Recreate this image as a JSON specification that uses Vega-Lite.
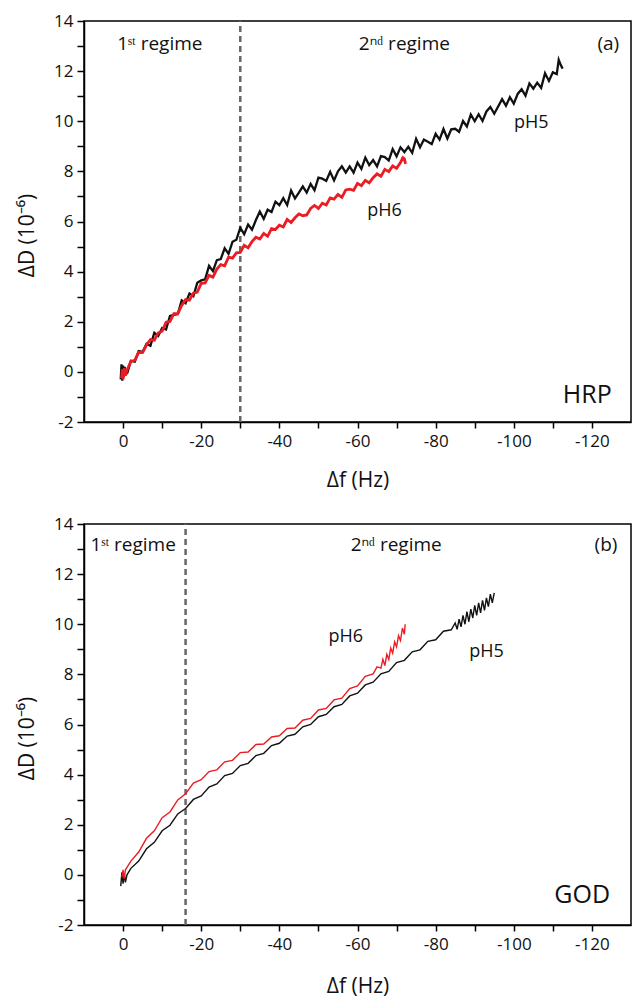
{
"$schema": "https://vega.github.io/schema/vega-lite/v6.json",
"padding": {"left": 15, "top": 11, "right": 0, "bottom": 0},
"spacing": 23,
"config": {
  "font": "Open Sans",
  "view": {"stroke": "#000", "strokeWidth": 1.5},
  "axis": {"grid": false, "domainColor": "#000", "domainWidth": 1.5, "tickColor": "#000", "tickWidth": 1.5, "labelColor": "#111", "titleColor": "#111", "labelFontSize": 17, "titleFontSize": 21, "titleFontWeight": "normal", "labelFlush": false, "labelOverlap": false},
  "axisX": {"tickSize": 6, "labelPadding": 5, "titlePadding": 20},
  "axisY": {"tickSize": 7, "labelPadding": 4, "titlePadding": 16, "titleY": 214},
  "text": {"color": "#111"}
},
"datasets": {
"a5": [
{"f":0.6,"d":-0.3},{"f":0.4,"d":0.3},{"f":0.2,"d":-0.35},{"f":0,"d":0.25},{"f":-0.2,"d":-0.2},{"f":-0.4,"d":0.2},{"f":-0.6,"d":-0.1},{"f":-0.8,"d":0.1},
{"f":-1,"d":-0.08},{"f":-2,"d":0.44},{"f":-3,"d":0.41},{"f":-4,"d":0.83},{"f":-5,"d":0.8},{"f":-6,"d":1.12},{"f":-7,"d":1.04},{"f":-8,"d":1.56},{"f":-9,"d":1.43},{"f":-10,"d":1.75},
{"f":-11,"d":1.69},{"f":-12,"d":2.23},{"f":-13,"d":2.27},{"f":-14,"d":2.31},{"f":-15,"d":2.85},{"f":-16,"d":2.74},{"f":-17,"d":3.13},{"f":-18,"d":3.02},{"f":-19,"d":3.56},{"f":-20,"d":3.65},
{"f":-21,"d":3.69},{"f":-22,"d":4.23},{"f":-23,"d":4.02},{"f":-24,"d":4.46},{"f":-25,"d":4.5},{"f":-26,"d":4.93},{"f":-27,"d":4.71},{"f":-28,"d":5.19},{"f":-29,"d":5.27},{"f":-30,"d":5.75},
{"f":-31,"d":5.49},{"f":-32,"d":5.88},{"f":-33,"d":5.67},{"f":-34,"d":6.06},{"f":-35,"d":6.4},{"f":-36,"d":6.11},{"f":-37,"d":6.47},{"f":-38,"d":6.38},{"f":-39,"d":6.79},{"f":-40,"d":6.65},
{"f":-41,"d":6.93},{"f":-42,"d":6.66},{"f":-43,"d":7.24},{"f":-44,"d":6.92},{"f":-45,"d":7.15},{"f":-46,"d":7.4},{"f":-47,"d":7.15},{"f":-48,"d":7.5},{"f":-49,"d":7.25},{"f":-50,"d":7.75},
{"f":-51,"d":7.71},{"f":-52,"d":7.62},{"f":-53,"d":7.98},{"f":-54,"d":7.64},{"f":-55,"d":8.0},{"f":-56,"d":8.2},{"f":-57,"d":7.95},{"f":-58,"d":8.2},{"f":-59,"d":7.95},{"f":-60,"d":8.35},
{"f":-61,"d":8.1},{"f":-62,"d":8.55},{"f":-63,"d":8.25},{"f":-64,"d":8.45},{"f":-65,"d":8.2},{"f":-66,"d":8.61},{"f":-67,"d":8.57},{"f":-68,"d":8.43},{"f":-69,"d":8.89},{"f":-70,"d":8.6},
{"f":-71,"d":8.96},{"f":-72,"d":8.77},{"f":-73,"d":8.98},{"f":-74,"d":8.74},{"f":-75,"d":9.3},{"f":-76,"d":8.96},{"f":-77,"d":9.27},{"f":-78,"d":9.18},{"f":-79,"d":9.09},{"f":-80,"d":9.5},
{"f":-81,"d":9.27},{"f":-82,"d":9.69},{"f":-83,"d":9.31},{"f":-84,"d":9.68},{"f":-85,"d":9.7},{"f":-86,"d":9.58},{"f":-87,"d":10.01},{"f":-88,"d":9.79},{"f":-89,"d":10.27},{"f":-90,"d":10.0},
{"f":-91,"d":10.28},{"f":-92,"d":10.01},{"f":-93,"d":10.39},{"f":-94,"d":10.57},{"f":-95,"d":10.3},{"f":-96,"d":10.59},{"f":-97,"d":10.88},{"f":-98,"d":10.62},{"f":-99,"d":10.96},{"f":-100,"d":10.7},
{"f":-101,"d":11.09},{"f":-102,"d":11.28},{"f":-103,"d":11.02},{"f":-104,"d":11.51},{"f":-105,"d":11.3},{"f":-106,"d":11.54},{"f":-107,"d":11.33},{"f":-108,"d":11.92},{"f":-109,"d":11.61},{"f":-110,"d":11.95},
{"f":-111,"d":11.88},{"f":-111.5,"d":12.45},{"f":-112,"d":12.25},{"f":-112.5,"d":12.1}
],
"a6": [
{"f":0.4,"d":-0.25},{"f":0.2,"d":0.1},{"f":0,"d":-0.3},{"f":-0.3,"d":0.15},{"f":-0.6,"d":-0.15},
{"f":-1,"d":0.07},{"f":-2,"d":0.42},{"f":-3,"d":0.46},{"f":-4,"d":0.78},{"f":-5,"d":0.77},{"f":-6,"d":1.07},{"f":-7,"d":1.29},{"f":-8,"d":1.26},{"f":-9,"d":1.56},{"f":-10,"d":1.62},
{"f":-11,"d":1.98},{"f":-12,"d":2.01},{"f":-13,"d":2.32},{"f":-14,"d":2.32},{"f":-15,"d":2.65},{"f":-16,"d":2.89},{"f":-17,"d":2.86},{"f":-18,"d":3.14},{"f":-19,"d":3.18},{"f":-20,"d":3.53},
{"f":-21,"d":3.55},{"f":-22,"d":3.85},{"f":-23,"d":3.78},{"f":-24,"d":4.1},{"f":-25,"d":4.28},{"f":-26,"d":4.23},{"f":-27,"d":4.58},{"f":-28,"d":4.54},{"f":-29,"d":4.75},{"f":-30,"d":4.77},
{"f":-31,"d":5.05},{"f":-32,"d":4.95},{"f":-33,"d":5.2},{"f":-34,"d":5.37},{"f":-35,"d":5.3},{"f":-36,"d":5.52},{"f":-37,"d":5.41},{"f":-38,"d":5.72},{"f":-39,"d":5.68},{"f":-40,"d":5.85},
{"f":-41,"d":5.78},{"f":-42,"d":6.08},{"f":-43,"d":5.96},{"f":-44,"d":6.15},{"f":-45,"d":6.3},{"f":-46,"d":6.23},{"f":-47,"d":6.26},{"f":-48,"d":6.52},{"f":-49,"d":6.64},{"f":-50,"d":6.52},
{"f":-51,"d":6.73},{"f":-52,"d":6.66},{"f":-53,"d":6.94},{"f":-54,"d":6.89},{"f":-55,"d":7.08},{"f":-56,"d":6.96},{"f":-57,"d":7.26},{"f":-58,"d":7.29},{"f":-59,"d":7.24},{"f":-60,"d":7.52},
{"f":-61,"d":7.43},{"f":-62,"d":7.64},{"f":-63,"d":7.54},{"f":-64,"d":7.75},{"f":-65,"d":7.9},{"f":-66,"d":7.8},{"f":-67,"d":8.08},{"f":-68,"d":7.99},{"f":-69,"d":8.22},{"f":-70,"d":8.12},
{"f":-71,"d":8.35},{"f":-71.6,"d":8.55},{"f":-72,"d":8.5},{"f":-72.3,"d":8.3}
],
"b5": [
{"f":0.6,"d":-0.45},{"f":0.3,"d":0.1},{"f":0,"d":-0.35},{"f":-0.3,"d":0.05},{"f":-0.6,"d":-0.3},{"f":-1,"d":0.0},
{"f":-2,"d":0.26},{"f":-4,"d":0.55},{"f":-6,"d":1.04},{"f":-8,"d":1.3},{"f":-10,"d":1.76},{"f":-12,"d":1.98},{"f":-14,"d":2.43},{"f":-16,"d":2.65},{"f":-18,"d":3.01},{"f":-20,"d":3.15},
{"f":-22,"d":3.5},{"f":-24,"d":3.63},{"f":-26,"d":3.96},{"f":-28,"d":4.05},{"f":-30,"d":4.36},{"f":-32,"d":4.45},{"f":-34,"d":4.76},{"f":-36,"d":4.85},{"f":-38,"d":5.16},{"f":-40,"d":5.25},
{"f":-42,"d":5.54},{"f":-44,"d":5.61},{"f":-46,"d":5.91},{"f":-48,"d":6.0},{"f":-50,"d":6.31},{"f":-52,"d":6.4},{"f":-54,"d":6.71},{"f":-56,"d":6.8},{"f":-58,"d":7.14},{"f":-60,"d":7.25},
{"f":-62,"d":7.58},{"f":-64,"d":7.69},{"f":-66,"d":8.02},{"f":-68,"d":8.12},{"f":-70,"d":8.47},{"f":-72,"d":8.56},{"f":-74,"d":8.9},{"f":-76,"d":8.98},{"f":-78,"d":9.32},{"f":-80,"d":9.38},
{"f":-82,"d":9.72},{"f":-84,"d":9.78},{"f":-85,"d":10.05},{"f":-85.5,"d":9.8},{"f":-86,"d":10.2},{"f":-86.5,"d":9.9},{"f":-87,"d":10.35},{"f":-87.5,"d":10.0},{"f":-88,"d":10.5},{"f":-88.5,"d":10.1},
{"f":-89,"d":10.6},{"f":-89.5,"d":10.25},{"f":-90,"d":10.75},{"f":-90.5,"d":10.35},{"f":-91,"d":10.85},{"f":-91.5,"d":10.45},{"f":-92,"d":10.95},{"f":-92.5,"d":10.55},{"f":-93,"d":11.05},{"f":-93.5,"d":10.7},
{"f":-94,"d":11.2},{"f":-94.5,"d":10.85},{"f":-95,"d":11.25}
],
"b6": [
{"f":0.3,"d":-0.1},{"f":0,"d":0.2},{"f":-0.3,"d":-0.15},{"f":-0.6,"d":0.2},{"f":-1,"d":0.3},
{"f":-2,"d":0.55},{"f":-4,"d":0.91},{"f":-6,"d":1.46},{"f":-8,"d":1.76},{"f":-10,"d":2.28},{"f":-12,"d":2.51},{"f":-14,"d":2.99},{"f":-16,"d":3.24},{"f":-18,"d":3.66},{"f":-20,"d":3.8},
{"f":-22,"d":4.12},{"f":-24,"d":4.19},{"f":-26,"d":4.51},{"f":-28,"d":4.57},{"f":-30,"d":4.88},{"f":-32,"d":4.9},{"f":-34,"d":5.2},{"f":-36,"d":5.22},{"f":-38,"d":5.5},{"f":-40,"d":5.55},
{"f":-42,"d":5.84},{"f":-44,"d":5.86},{"f":-46,"d":6.17},{"f":-48,"d":6.24},{"f":-50,"d":6.58},{"f":-52,"d":6.64},{"f":-54,"d":6.98},{"f":-56,"d":7.05},{"f":-58,"d":7.43},{"f":-60,"d":7.54},
{"f":-62,"d":7.92},{"f":-64,"d":8.02},{"f":-65,"d":8.3},{"f":-66,"d":8.25},{"f":-66.5,"d":8.6},{"f":-67,"d":8.35},{"f":-67.5,"d":8.8},{"f":-68,"d":8.6},{"f":-68.5,"d":9.05},{"f":-69,"d":8.85},
{"f":-69.5,"d":9.3},{"f":-70,"d":9.1},{"f":-70.5,"d":9.55},{"f":-71,"d":9.35},{"f":-71.5,"d":9.85},{"f":-72,"d":9.6},{"f":-72.2,"d":10.0}
]
},
"vconcat": [
{
  "width": 547, "height": 401,
  "encoding": {
    "x": {"field": "f", "type": "quantitative", "title": "Δf (Hz)",
      "scale": {"domain": [-130, 10], "reverse": true, "nice": false, "zero": false},
      "axis": {"values": [0,-10,-20,-30,-40,-50,-60,-70,-80,-90,-100,-110,-120], "labelExpr": "datum.value % 20 == 0 ? '' + datum.value : ''"}},
    "y": {"field": "d", "type": "quantitative", "title": "ΔD (10⁻⁶)",
      "scale": {"domain": [-2, 14], "nice": false, "zero": false},
      "axis": {"values": [-2,-1,0,1,2,3,4,5,6,7,8,9,10,11,12,13,14], "labelExpr": "datum.value % 2 == 0 ? '' + datum.value : ''"}}
  },
  "layer": [
    {"data": {"values": [{"f": -30, "d": -2, "d2": 14}]}, "mark": {"type": "rule", "color": "#666", "strokeWidth": 2.5, "strokeDash": [6, 4]}, "encoding": {"y2": {"field": "d2"}}},
    {"data": {"name": "a5"}, "mark": {"type": "line", "color": "#111", "strokeWidth": 2.3}, "encoding": {}},
    {"data": {"name": "a6"}, "mark": {"type": "line", "color": "#ec1c24", "strokeWidth": 2.8}, "encoding": {}},
    {"data": {"values": [{"t": "1ˢᵗ regime", "f": -9.4, "d": 13.1}, {"t": "2ⁿᵈ regime", "f": -72, "d": 13.1}, {"t": "(a)", "f": -124.2, "d": 13.1}]},
     "mark": {"type": "text", "fontSize": 19, "align": "center", "baseline": "middle"}, "encoding": {"text": {"field": "t"}}},
    {"data": {"values": [{"t": "pH5", "f": -104.5, "d": 9.95}, {"t": "pH6", "f": -66.9, "d": 6.43}]},
     "mark": {"type": "text", "fontSize": 18, "align": "center", "baseline": "middle"}, "encoding": {"text": {"field": "t"}}},
    {"data": {"values": [{"t": "HRP", "f": -118.8, "d": -0.94}]},
     "mark": {"type": "text", "fontSize": 25, "align": "center", "baseline": "middle"}, "encoding": {"text": {"field": "t"}}}
  ]
},
{
  "width": 547, "height": 401,
  "encoding": {
    "x": {"field": "f", "type": "quantitative", "title": "Δf (Hz)",
      "scale": {"domain": [-130, 10], "reverse": true, "nice": false, "zero": false},
      "axis": {"titlePadding": 23, "values": [0,-10,-20,-30,-40,-50,-60,-70,-80,-90,-100,-110,-120], "labelExpr": "datum.value % 20 == 0 ? '' + datum.value : ''"}},
    "y": {"field": "d", "type": "quantitative", "title": "ΔD (10⁻⁶)",
      "scale": {"domain": [-2, 14], "nice": false, "zero": false},
      "axis": {"values": [-2,-1,0,1,2,3,4,5,6,7,8,9,10,11,12,13,14], "labelExpr": "datum.value % 2 == 0 ? '' + datum.value : ''"}}
  },
  "layer": [
    {"data": {"values": [{"f": -16, "d": -2, "d2": 14}]}, "mark": {"type": "rule", "color": "#666", "strokeWidth": 2.5, "strokeDash": [6, 4]}, "encoding": {"y2": {"field": "d2"}}},
    {"data": {"name": "b5"}, "mark": {"type": "line", "color": "#111", "strokeWidth": 1.4}, "encoding": {}},
    {"data": {"name": "b6"}, "mark": {"type": "line", "color": "#ec1c24", "strokeWidth": 1.4}, "encoding": {}},
    {"data": {"values": [{"t": "1ˢᵗ regime", "f": -2.6, "d": 13.15}, {"t": "2ⁿᵈ regime", "f": -69.9, "d": 13.15}, {"t": "(b)", "f": -123.6, "d": 13.15}]},
     "mark": {"type": "text", "fontSize": 19, "align": "center", "baseline": "middle"}, "encoding": {"text": {"field": "t"}}},
    {"data": {"values": [{"t": "pH6", "f": -57, "d": 9.5}, {"t": "pH5", "f": -93, "d": 8.9}]},
     "mark": {"type": "text", "fontSize": 18, "align": "center", "baseline": "middle"}, "encoding": {"text": {"field": "t"}}},
    {"data": {"values": [{"t": "GOD", "f": -117.5, "d": -0.8}]},
     "mark": {"type": "text", "fontSize": 25, "align": "center", "baseline": "middle"}, "encoding": {"text": {"field": "t"}}}
  ]
}
]
}
